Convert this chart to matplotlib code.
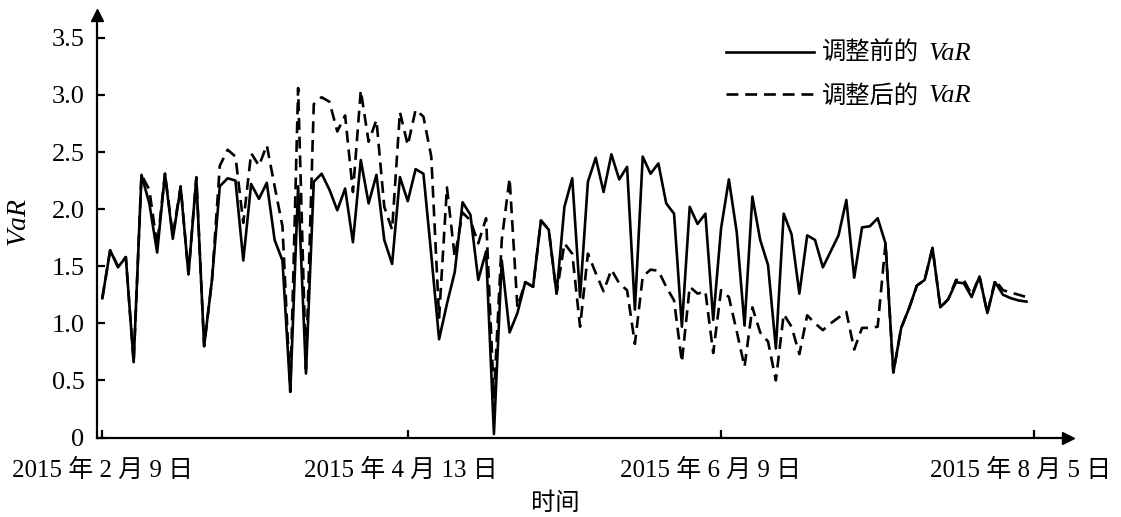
import matplotlib
matplotlib.use('Agg')
import matplotlib.pyplot as plt
from matplotlib.transforms import ScaledTranslation

# VaR before adjustment (solid line)
before = [1.22, 1.64, 1.49, 1.58, 0.66, 2.30, 2.05, 1.62, 2.31, 1.74,
          2.19, 1.43, 2.27, 0.80, 1.38, 2.20, 2.27, 2.25, 1.55, 2.22,
          2.09, 2.23, 1.73, 1.55, 0.40, 2.20, 0.56, 2.24, 2.31, 2.17,
          1.99, 2.18, 1.71, 2.43, 2.05, 2.30, 1.73, 1.52, 2.28, 2.07,
          2.35, 2.31, 1.60, 0.86, 1.17, 1.45, 2.06, 1.95, 1.38, 1.63,
          0.03, 1.55, 0.92, 1.09, 1.36, 1.32, 1.90, 1.82, 1.26, 2.02,
          2.27, 1.23, 2.24, 2.45, 2.15, 2.48, 2.26, 2.37, 1.12, 2.46,
          2.31, 2.40, 2.05, 1.96, 0.97, 2.02, 1.87, 1.96, 1.03, 1.83,
          2.26, 1.80, 0.98, 2.11, 1.73, 1.51, 0.78, 1.96, 1.78, 1.26,
          1.77, 1.73, 1.49, 1.63, 1.77, 2.08, 1.40, 1.84, 1.85, 1.92,
          1.70, 0.57, 0.96, 1.13, 1.33, 1.38, 1.66, 1.14, 1.21, 1.36,
          1.35, 1.23, 1.41, 1.09, 1.36, 1.25, 1.22, 1.20, 1.19]

# VaR after adjustment (dashed line)
after = [1.22, 1.64, 1.50, 1.58, 0.66, 2.30, 2.17, 1.68, 2.31, 1.77,
         2.20, 1.43, 2.28, 0.80, 1.38, 2.38, 2.52, 2.46, 1.88, 2.49,
         2.38, 2.56, 2.20, 1.85, 0.40, 3.06, 0.60, 2.92, 2.98, 2.94,
         2.68, 2.82, 2.15, 3.04, 2.59, 2.78, 2.02, 1.82, 2.85, 2.56,
         2.87, 2.81, 2.46, 1.05, 2.19, 1.58, 1.97, 1.90, 1.70, 1.92,
         0.35, 1.73, 2.27, 1.14, 1.36, 1.32, 1.90, 1.82, 1.26, 1.70,
         1.61, 0.97, 1.61, 1.44, 1.28, 1.47, 1.35, 1.29, 0.82, 1.41,
         1.47, 1.46, 1.32, 1.20, 0.66, 1.32, 1.26, 1.28, 0.74, 1.29,
         1.23, 0.93, 0.62, 1.14, 0.92, 0.84, 0.50, 1.08, 0.97, 0.73,
         1.07, 1.00, 0.94, 1.00, 1.05, 1.10, 0.77, 0.96, 0.96, 0.97,
         1.70, 0.57, 0.96, 1.13, 1.33, 1.38, 1.66, 1.14, 1.21, 1.38,
         1.38, 1.25, 1.41, 1.09, 1.38, 1.29, 1.27, 1.25, 1.23]

x_tick_index = [0, 39, 79, 119]
x_tick_labels = ['2015 年 2 月 9 日', '2015 年 4 月 13 日', '2015 年 6 月 9 日', '2015 年 8 月 5 日']
y_ticks = [0, 0.5, 1.0, 1.5, 2.0, 2.5, 3.0, 3.5]
y_tick_labels = ['0', '0.5', '1.0', '1.5', '2.0', '2.5', '3.0', '3.5']
label_cn = ['调整前的', '调整后的']
label_it = 'VaR'

plt.rcParams['font.family'] = ['Liberation Serif', 'Noto Sans CJK SC']
plt.rcParams['mathtext.fontset'] = 'custom'
plt.rcParams['mathtext.it'] = 'Liberation Serif:italic'

fig = plt.figure(figsize=(11.21, 5.17), dpi=100)
ax = fig.add_axes([97 / 1121, 1 - 437.5 / 517, (1068 - 97) / 1121, (437.5 - 15) / 517])

xs = list(range(len(before)))
ax.plot(xs, before, color='black', lw=1.9, label=label_cn[0])
ax.plot(xs, after, color='black', lw=1.9, dashes=(4.5, 2.6), label=label_cn[1])

ax.set_xlim(-0.68, 123.3)
ax.set_ylim(0, 3.70)

for s in ['top', 'right']:
    ax.spines[s].set_visible(False)
for s in ['left', 'bottom']:
    ax.spines[s].set_linewidth(1.6)

# arrow heads
ax.plot(1, 0, marker='>', color='black', markersize=9, transform=ax.transAxes, clip_on=False)
ax.plot(0, 1, marker='^', color='black', markersize=9, transform=ax.transAxes, clip_on=False)

ax.set_xticks(x_tick_index)
ax.set_xticklabels(x_tick_labels)
ax.set_yticks(y_ticks)
ax.set_yticklabels(y_tick_labels)
ax.tick_params(direction='in', length=6, width=1.6, labelsize=18)
ax.tick_params(axis='y', labelsize=19, pad=9)
ax.tick_params(axis='x', pad=15)

# small horizontal shifts of the date labels as in the reference
offsets_px = [0, -7, -10, -14]
for lab, dx in zip(ax.get_xticklabels(), offsets_px):
    lab.set_transform(lab.get_transform() + ScaledTranslation(dx / 100, 0, fig.dpi_scale_trans))

ax.set_xlabel('时间', fontsize=17.5)
ax.xaxis.set_label_coords((555 - 97) / 971, (437.5 - 504) / 422.5)
ax.xaxis.label.set_va('center')
ax.set_ylabel('$VaR$', fontsize=20)
ax.yaxis.set_label_coords((20 - 97) / 971, (437.5 - 222) / 422.5)
ax.yaxis.label.set_va('center')

leg = ax.legend(loc='upper left', bbox_to_anchor=(726 / 1121, 1 - 42 / 517),
                bbox_transform=fig.transFigure, frameon=False, fontsize=17.5,
                handlelength=3.6, handletextpad=0.35, labelspacing=0.8,
                borderpad=0, borderaxespad=0)

# append italic "VaR" after each legend label
fig.canvas.draw()
renderer = fig.canvas.get_renderer()
inv = fig.transFigure.inverted()
for t in leg.get_texts():
    bb = t.get_window_extent(renderer)
    x0, y0 = inv.transform((bb.x1 + 10, (bb.y0 + bb.y1) / 2))
    fig.text(x0, y0, label_it, fontsize=19, family='Liberation Serif', style='italic',
             ha='left', va='center')

fig.savefig('out.png', dpi=100)
